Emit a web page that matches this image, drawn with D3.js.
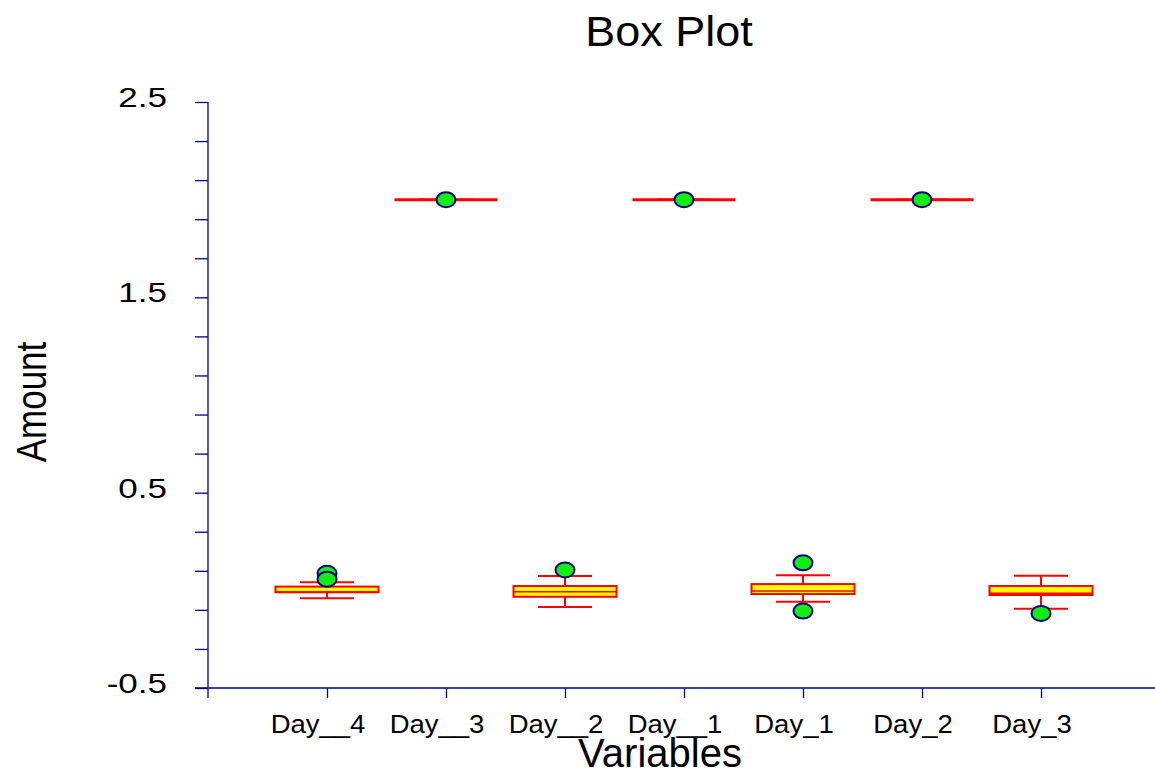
<!DOCTYPE html>
<html>
<head>
<meta charset="utf-8">
<script src="https://cdn.jsdelivr.net/npm/d3@7"></script>
<style>
  body { margin: 0; background: #fff; }
  text { font-family: "Liberation Sans", Arial, sans-serif; fill: #000; }
</style>
</head>
<body>
<svg id="chart" width="1155" height="771"></svg>
<script>
// data
const categories = ["Day__4", "Day__3", "Day__2", "Day__1", "Day_1", "Day_2", "Day_3"];
const whiskerHigh = [0.041, 2.0, 0.073, 2.0, 0.077, 2.0, 0.075];
const q3 = [0.019, 2.0, 0.022, 2.0, 0.032, 2.0, 0.022];
const median = [-0.008, 2.0, -0.007, 2.0, -0.003, 2.0, -0.015];
const q1 = [-0.010, 2.0, -0.033, 2.0, -0.019, 2.0, -0.024];
const whiskerLow = [-0.041, 2.0, -0.085, 2.0, -0.058, 2.0, -0.094];
const outliers = [[0.087, 0.057], [2.0], [0.104], [2.0], [0.141, -0.106], [2.0], [-0.118]];
const yTickLabels = [2.5, 1.5, 0.5, -0.5];

const WIDTH = 1155;
const HEIGHT = 771;
const AXIS = "#00008b";
const boxWidth = 103;
const capWidth = 54;

const svg = d3.select("#chart");

const x = d3.scaleLinear().domain([0, 8]).range([208, 1160]);
const y = d3.scaleLinear().domain([-0.5, 2.5]).range([688, 102]);

const rows = categories.map((c, i) => ({
  name: c,
  pos: i + 1,
  lo: whiskerLow[i],
  q1: q1[i],
  med: median[i],
  q3: q3[i],
  hi: whiskerHigh[i],
  out: outliers[i],
}));

// helper for stretched text (the source fonts are wider than Arial)
function label(g, tx, ty, str, size, sx, anchor, rotate) {
  g.append("text")
    .attr("transform", `translate(${tx},${ty}) scale(${sx},1)${rotate ? " rotate(-90)" : ""}`)
    .attr("text-anchor", anchor)
    .style("font-size", size + "px")
    .text(str);
}

// Y axis
const yAxis = svg.append("g")
  .attr("class", "y-axis")
  .attr("transform", `translate(${x(0)},0)`)
  .call(d3.axisLeft(y)
    .tickValues(d3.range(0, 16).map((k) => -0.5 + k * 0.2))
    .tickSize(13)
    .tickSizeOuter(0)
    .tickFormat(""));
yAxis.select(".domain").attr("stroke", AXIS).attr("stroke-width", 1.3)
  .attr("d", `M0,${y(2.5)}V${y(-0.5) + 10}`);
yAxis.selectAll(".tick line").attr("stroke", AXIS).attr("stroke-width", 1.3);

// X axis
const xAxis = svg.append("g")
  .attr("class", "x-axis")
  .attr("transform", `translate(0,${y(-0.5)})`)
  .call(d3.axisBottom(x)
    .tickValues(d3.range(1, 8))
    .tickSize(10)
    .tickSizeOuter(0)
    .tickFormat(""));
xAxis.select(".domain").attr("stroke", AXIS).attr("stroke-width", 1.3)
  .attr("d", `M${x(0) - 13},0H${WIDTH}`);
xAxis.selectAll(".tick line").attr("stroke", AXIS).attr("stroke-width", 1.3);

// tick labels
const labels = svg.append("g").attr("class", "labels");
yTickLabels.forEach((v) => {
  label(labels, 167, y(v) + 5, v.toString(), 28, 1.25, "end");
});
rows.forEach((d) => {
  label(labels, x(d.pos) - 9, 733, d.name, 25, 1.1, "middle");
});

// titles
label(labels, 669, 46, "Box Plot", 42, 1.07, "middle");
label(labels, 660, 767, "Variables", 40, 1.0, "middle");
label(labels, 46, 402, "Amount", 35, 1.2, "middle", true);

// boxes
const boxG = svg.append("g").attr("class", "boxes");
rows.forEach((d) => {
  const g = boxG.append("g");
  const cx = x(d.pos);
  // whisker stem
  g.append("line")
    .attr("x1", cx).attr("x2", cx)
    .attr("y1", y(d.hi)).attr("y2", y(d.lo))
    .attr("stroke", "red").attr("stroke-width", 2);
  // caps
  [d.hi, d.lo].forEach((v) => {
    g.append("line")
      .attr("x1", cx - capWidth / 2).attr("x2", cx + capWidth / 2)
      .attr("y1", y(v)).attr("y2", y(v))
      .attr("stroke", "red").attr("stroke-width", 2);
  });
  if (d.q3 === d.q1) {
    // collapsed box
    g.append("line")
      .attr("x1", cx - boxWidth / 2).attr("x2", cx + boxWidth / 2)
      .attr("y1", y(d.q1)).attr("y2", y(d.q1))
      .attr("stroke", "red").attr("stroke-width", 3);
  } else {
    g.append("rect")
      .attr("x", cx - boxWidth / 2)
      .attr("y", y(d.q3))
      .attr("width", boxWidth)
      .attr("height", y(d.q1) - y(d.q3))
      .attr("fill", "#ffff00")
      .attr("stroke", "red")
      .attr("stroke-width", 2);
    g.append("line")
      .attr("x1", cx - boxWidth / 2).attr("x2", cx + boxWidth / 2)
      .attr("y1", y(d.med)).attr("y2", y(d.med))
      .attr("stroke", "red").attr("stroke-width", 1.5);
  }
  // outliers
  g.selectAll("ellipse")
    .data(d.out)
    .join("ellipse")
    .attr("cx", cx)
    .attr("cy", (v) => y(v))
    .attr("rx", 9.5)
    .attr("ry", 7.5)
    .attr("fill", "#11ee11")
    .attr("stroke", "#000080")
    .attr("stroke-width", 2);
});
</script>
</body>
</html>
